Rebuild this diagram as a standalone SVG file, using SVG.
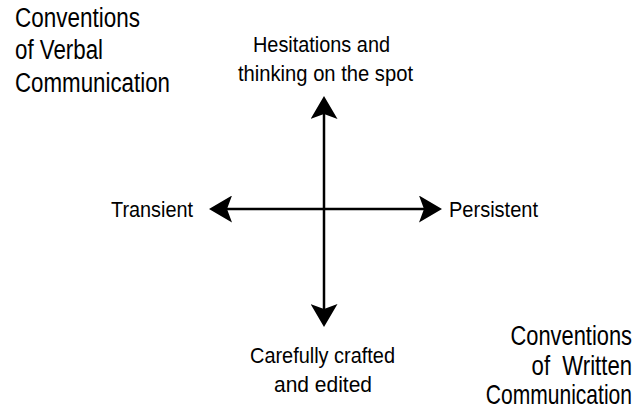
<svg xmlns="http://www.w3.org/2000/svg" width="639" height="416" viewBox="0 0 639 416">
<style>
text{font-family:"Liberation Sans",Arial,sans-serif;fill:#000;}
.c{font-size:22px;}
.k{font-size:27px;}
.r{text-anchor:end;}
.ax{stroke:#000;stroke-width:2.5;fill:none;}
</style>
<defs>
<marker id="ah" viewBox="0 0 23 27" refX="18" refY="13.5" markerWidth="23" markerHeight="27" markerUnits="userSpaceOnUse" orient="auto-start-reverse">
<path d="M0,0 L23,13.5 L0,27 L5,13.5 Z" fill="#000"/>
</marker>
</defs>
<rect width="639" height="416" fill="#fff"/>
<g id="connectors">
<line class="ax" x1="214" y1="209" x2="437" y2="209" marker-start="url(#ah)" marker-end="url(#ah)"/>
<line class="ax" x1="324" y1="101" x2="324" y2="322" marker-start="url(#ah)" marker-end="url(#ah)"/>
</g>
<g id="verbal">
<text class="k" x="15" y="27" textLength="125" lengthAdjust="spacingAndGlyphs">Conventions</text>
<text class="k" x="15" y="59" textLength="88" lengthAdjust="spacingAndGlyphs">of Verbal</text>
<text class="k" x="15" y="92" textLength="155" lengthAdjust="spacingAndGlyphs">Communication</text>
</g>
<g id="written">
<text class="k r" transform="translate(632 345) scale(0.81 1)">Conventions</text>
<text class="k r" transform="translate(632 375) scale(0.82 1)" xml:space="preserve">of  Written</text>
<text class="k r" transform="translate(632 404) scale(0.78 1)">Communication</text>
</g>
<g id="top">
<text class="c" x="253" y="52" textLength="137" lengthAdjust="spacingAndGlyphs">Hesitations and</text>
<text class="c" x="238" y="81" textLength="175" lengthAdjust="spacingAndGlyphs">thinking on the spot</text>
</g>
<g id="bottom">
<text class="c" x="250" y="363" textLength="145" lengthAdjust="spacingAndGlyphs">Carefully crafted</text>
<text class="c" x="274" y="392" textLength="98" lengthAdjust="spacingAndGlyphs">and edited</text>
</g>
<g id="left">
<text class="c" x="111" y="217" textLength="82" lengthAdjust="spacingAndGlyphs">Transient</text>
</g>
<g id="right">
<text class="c" x="449" y="217" textLength="89" lengthAdjust="spacingAndGlyphs">Persistent</text>
</g>
</svg>
